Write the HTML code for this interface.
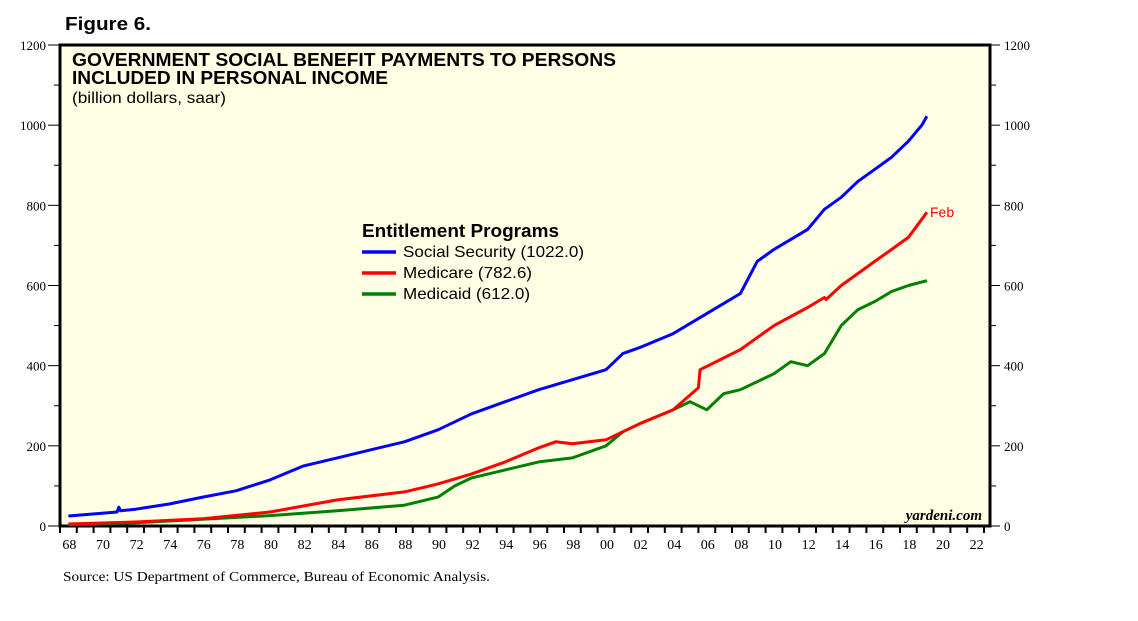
<!DOCTYPE html>
<html><head><meta charset="utf-8"><style>
body{margin:0;background:#fff;width:1138px;height:621px;overflow:hidden}
svg{display:block}
</style></head><body>
<svg id="chart" width="1138" height="621" xmlns="http://www.w3.org/2000/svg">
<text x="65" y="30" font-family="Liberation Sans, sans-serif" font-weight="bold" font-size="18" textLength="86" lengthAdjust="spacingAndGlyphs">Figure 6.</text>
<rect x="60" y="45" width="930" height="481" fill="#ffffe6" stroke="#000" stroke-width="3"/>
<g id="axes"></g>
<text x="72" y="66" font-family="Liberation Sans, sans-serif" font-weight="bold" font-size="18.5" textLength="544" lengthAdjust="spacingAndGlyphs">GOVERNMENT SOCIAL BENEFIT PAYMENTS TO PERSONS</text>
<text x="72" y="84" font-family="Liberation Sans, sans-serif" font-weight="bold" font-size="18.5" textLength="316" lengthAdjust="spacingAndGlyphs">INCLUDED IN PERSONAL INCOME</text>
<text x="72" y="103" font-family="Liberation Sans, sans-serif" font-size="16" textLength="154" lengthAdjust="spacingAndGlyphs">(billion dollars, saar)</text>
<g id="series"></g>
<g font-family="Liberation Sans, sans-serif">
<text x="362" y="237" font-weight="bold" font-size="18" textLength="197" lengthAdjust="spacingAndGlyphs">Entitlement Programs</text>
<g><line x1="362" y1="252" x2="396" y2="252" stroke="#0000ff" stroke-width="3.5"/><text x="403" y="257" font-size="16" textLength="181" lengthAdjust="spacingAndGlyphs">Social Security (1022.0)</text></g>
<g><line x1="362" y1="273" x2="396" y2="273" stroke="#ff0000" stroke-width="3.5"/><text x="403" y="278" font-size="16" textLength="129" lengthAdjust="spacingAndGlyphs">Medicare (782.6)</text></g>
<g><line x1="362" y1="294" x2="396" y2="294" stroke="#008000" stroke-width="3.5"/><text x="403" y="299" font-size="16" textLength="127" lengthAdjust="spacingAndGlyphs">Medicaid (612.0)</text></g>
</g>
<text x="930" y="217" fill="#ff0000" font-family="Liberation Sans, sans-serif" font-size="14">Feb</text>
<text x="982" y="520" text-anchor="end" font-family="Liberation Serif, serif" font-style="italic" font-weight="bold" font-size="15">yardeni.com</text>
<text x="63" y="581" font-family="Liberation Serif, serif" font-size="14" textLength="427" lengthAdjust="spacingAndGlyphs">Source: US Department of Commerce, Bureau of Economic Analysis.</text>
</svg>
<script>
const ssYears=[1968,1970,1970.9,1971,1971.1,1972,1974,1976,1978,1980,1982,1984,1986,1988,1990,1992,1994,1996,1998,2000,2000.5,2001,2002,2004,2006,2008,2009,2010,2012,2013,2014,2015,2016,2017,2018,2018.8,2019.1];
const ssValues=[25,32,35,47,38,42,55,72,88,115,150,170,190,210,240,280,310,340,365,390,410,430,445,480,530,580,660,690,740,790,820,860,890,920,960,1000,1022];
const mcYears=[1968,1972,1976,1980,1984,1988,1990,1992,1994,1996,1997,1998,2000,2002,2004,2005.5,2005.6,2008,2010,2012,2013,2013.1,2014,2016,2018,2019.1];
const mcValues=[5,10,18,35,65,85,105,130,160,195,210,205,215,255,290,345,390,440,500,545,570,565,600,660,720,782.6];
const mdYears=[1968,1972,1976,1980,1984,1988,1990,1991,1992,1994,1996,1998,2000,2001,2002,2004,2005,2006,2007,2008,2010,2011,2012,2013,2014,2015,2016,2017,2018,2019.1];
const mdValues=[3,8,17,26,38,52,72,100,120,140,160,170,200,235,255,290,310,290,330,340,380,410,400,430,500,540,560,585,600,612];
const yTicks=[0,200,400,600,800,1000,1200];
const xLabels=["68","70","72","74","76","78","80","82","84","86","88","90","92","94","96","98","00","02","04","06","08","10","12","14","16","18","20","22"];
const NS="http://www.w3.org/2000/svg";
const X=y=>60+(y-1967.5)*16.8;
const Y=v=>526-v*(481/1200);
const axes=document.getElementById('axes'),series=document.getElementById('series');
function mk(t,a,p){const e=document.createElementNS(NS,t);for(const k in a)e.setAttribute(k,a[k]);p.appendChild(e);return e;}
yTicks.forEach(v=>{
 const l=mk('line',{x1:48,x2:60,y1:Y(v),y2:Y(v),stroke:'#000'},axes);
 
 
 const r=mk('line',{x1:990,x2:1000,y1:Y(v),y2:Y(v),stroke:'#000'},axes);
 
 
 const t=mk('text',{x:46,y:Y(v)+5,'text-anchor':'end','font-family':'Liberation Serif, serif','font-size':13},axes);t.textContent=v;
 
 
 const t2=mk('text',{x:1004,y:Y(v)+5,'font-family':'Liberation Serif, serif','font-size':13},axes);t2.textContent=v;
 
 
});
for(let v=100;v<1200;v+=200){
 mk('line',{x1:54,x2:60,y1:Y(v),y2:Y(v),stroke:'#000'},axes);
 mk('line',{x1:990,x2:996,y1:Y(v),y2:Y(v),stroke:'#000'},axes);
}
xLabels.forEach((s,i)=>{
 const yr=1968+2*i;
 for(const d of [0,1]){const yy=yr+d-0.5;if(yy<2023){mk('line',{x1:X(yy),x2:X(yy),y1:526,y2:533,stroke:'#000','stroke-width':2},axes);}}
 const t=mk('text',{x:X(yr)+1,y:549,'text-anchor':'middle','font-family':'Liberation Serif, serif','font-size':14},axes);t.textContent=s;
 
 
});
function line(xs,vs,c,name){
 const d=xs.map((x,i)=>(i?'L':'M')+X(x).toFixed(1)+' '+Y(vs[i]).toFixed(1)).join(' ');
 const p=mk('path',{d:d,fill:'none',stroke:c,'stroke-width':3,'stroke-linejoin':'round'},series);
 
 
}
line(mdYears,mdValues,'#008000','medicaid-line');
line(mcYears,mcValues,'#ff0000','medicare-line');
line(ssYears,ssValues,'#0000ff','social-security-line');
</script>
</body></html>
